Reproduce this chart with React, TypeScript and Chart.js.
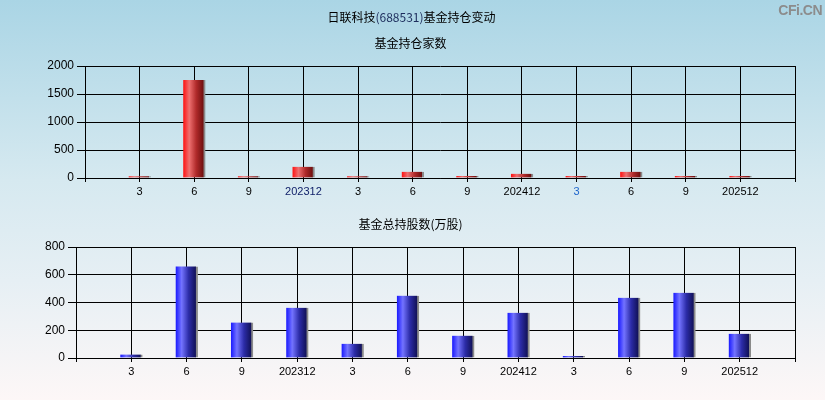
import React, { useEffect, useRef } from "react";
import { Chart, registerables } from "chart.js";

Chart.register(...registerables);

const categories = ["", "3", "6", "9", "202312", "3", "6", "9", "202412", "3", "6", "9", "202512", ""];
const fundCount = [null, 30, 1750, 30, 200, 30, 110, 35, 75, 35, 110, 35, 35, null];
const fundShares = [null, 25, 660, 255, 362, 103, 449, 161, 326, 15, 434, 470, 175, null];
const topTickColors = ["#000", "#000", "#000", "#000", "#12226a", "#000", "#000", "#000", "#000", "#1f66cc", "#000", "#000", "#000", "#000"];
const bottomTickColors = categories.map(() => "#000");

const mainTitle = "日联科技";
const mainCode = "(688531)";
const mainTail = "基金持仓变动";
const topTitle = "基金持仓家数";
const bottomTitle = "基金总持股数(万股)";

const redStops: [number, string][] = [[0, "#ff1010"], [0.3, "#ee7070"], [0.65, "#b02a2a"], [1, "#701010"]];
const blueStops: [number, string][] = [[0, "#1818ff"], [0.3, "#7373ff"], [0.65, "#2c2ca8"], [1, "#12125a"]];

const BAR_W = 22;

function gradient(stops: [number, string][]) {
  return (ctx: any) => {
    const chart = ctx.chart;
    const xs = chart.scales && chart.scales.x;
    if (!xs || ctx.type !== "data") return stops[0][1];
    const x = xs.getPixelForValue(ctx.dataIndex);
    if (!Number.isFinite(x)) return stops[0][1];
    const g = chart.ctx.createLinearGradient(x - BAR_W / 2, 0, x + BAR_W / 2 - 2, 0);
    stops.forEach(([o, c]) => g.addColorStop(o, c));
    return g;
  };
}

function makeConfig(data: (number | null)[], stops: [number, string][], max: number, step: number, yWidth: number, padTop: number, padBottom: number, tickColors: string[]) {
  return {
    type: "bar" as const,
    data: {
      labels: categories,
      datasets: [
        {
          data,
          backgroundColor: gradient(stops),
          borderColor: "#8a8a8a",
          borderWidth: { top: 0, left: 0, bottom: 0, right: 2 },
          borderSkipped: false,
          barThickness: BAR_W,
        },
      ],
    },
    options: {
      responsive: false,
      animation: false,
      devicePixelRatio: 1,
      layout: { padding: { top: padTop, right: 30, bottom: padBottom, left: 0 } },
      plugins: { legend: { display: false }, title: { display: false }, tooltip: { enabled: false } },
      scales: {
        x: {
          type: "category",
          offset: false,
          grid: { offset: false, color: "#000", lineWidth: 1, tickLength: 4, drawTicks: true },
          border: { color: "#000", width: 1 },
          ticks: {
            autoSkip: false,
            maxRotation: 0,
            minRotation: 0,
            padding: 3,
            color: tickColors,
            font: { family: "Arial, 'Liberation Sans'", size: 11 },
          },
          afterFit: (s: any) => { s.height = 22; },
        },
        y: {
          min: 0,
          max,
          grid: { color: "#000", lineWidth: 1, tickLength: 8, drawTicks: true },
          border: { color: "#000", width: 1 },
          ticks: {
            stepSize: step,
            padding: 3,
            color: "#000",
            font: { family: "Arial, 'Liberation Sans'", size: 12 },
            callback: (v: any) => String(v),
          },
          afterFit: (s: any) => { s.width = yWidth; },
        },
      },
    },
  };
}

function BarChart({ cfg, top }: { cfg: any; top: number }) {
  const ref = useRef<HTMLCanvasElement | null>(null);
  useEffect(() => {
    if (!ref.current) return;
    const chart = new Chart(ref.current, cfg);
    return () => chart.destroy();
  }, [cfg]);
  return (
    <canvas
      ref={ref}
      width={825}
      height={200}
      style={{ position: "absolute", left: 0, top, width: 825, height: 200 }}
    />
  );
}

const topCfg = makeConfig(fundCount, redStops, 2000, 500, 85, 66, 0, topTickColors);
const bottomCfg = makeConfig(fundShares, blueStops, 800, 200, 76, 47, 20, bottomTickColors);

const textStyle: React.CSSProperties = {
  position: "absolute",
  left: 0,
  width: 825,
  textAlign: "center",
  fontFamily: "'Noto Sans CJK SC', sans-serif",
  fontSize: 12,
  lineHeight: "16px",
  color: "#000",
  whiteSpace: "nowrap",
};

export default function App() {
  return (
    <div
      style={{
        position: "fixed",
        left: 0,
        top: 0,
        width: 825,
        height: 400,
        overflow: "hidden",
        background: "linear-gradient(to bottom, #aad5e5 0%, #d6e9f0 45%, #e6eff4 70%, #fdf7f7 100%)",
      }}
    >
      <BarChart cfg={topCfg} top={0} />
      <BarChart cfg={bottomCfg} top={200} />
      <div style={{ ...textStyle, top: 9, left: -1 }}>
        {mainTitle}
        <span style={{ color: "#1c2c5c" }}>{mainCode}</span>
        {mainTail}
      </div>
      <div style={{ ...textStyle, top: 35, left: -2 }}>{topTitle}</div>
      <div style={{ ...textStyle, top: 216, left: -2 }}>{bottomTitle}</div>
      <div
        style={{
          position: "absolute",
          right: 3,
          top: 2,
          fontFamily: "Arial, 'Liberation Sans'",
          fontSize: 14,
          fontWeight: "bold",
          color: "#8c8c8c",
          letterSpacing: -0.5,
        }}
      >
        CFi.CN
      </div>
    </div>
  );
}
